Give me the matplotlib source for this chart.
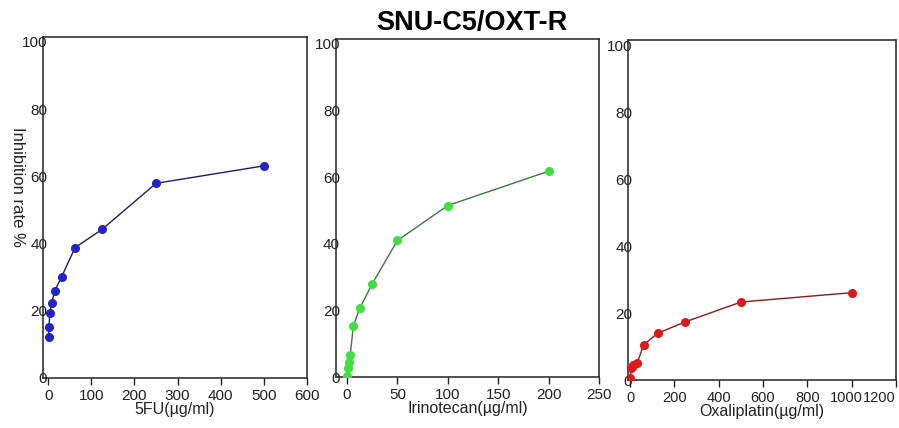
import numpy as np
import matplotlib
matplotlib.use("Agg")
import matplotlib.pyplot as plt
from matplotlib.transforms import ScaledTranslation

# ============================================================
# 数据区
# ============================================================

fu_dose = [0.98, 1.95, 3.9, 7.8, 15.6, 31.25, 62.5, 125, 250, 500]
fu_inhib = [12.3, 15.3, 19.2, 22.2, 26.0, 30.1, 38.8, 44.2, 57.9, 63.1]

iri_dose = [0.39, 0.78, 1.56, 3.125, 6.25, 12.5, 25, 50, 100, 200]
iri_inhib = [0.3, 2.6, 4.5, 6.5, 15.3, 20.6, 28.0, 41.0, 51.5, 61.8]

oxa_dose = [1.95, 3.9, 7.8, 15.6, 31.25, 62.5, 125, 250, 500, 1000]
oxa_inhib = [0.5, 3.6, 4.0, 4.4, 5.0, 10.6, 14.0, 17.4, 23.3, 26.1]

x_labels = ["5FU(µg/ml)", "Irinotecan(µg/ml)", "Oxaliplatin(µg/ml)"]
x_ticks = [np.arange(0, 601, 100), np.arange(0, 251, 50), np.arange(0, 1201, 200)]
y_ticks = [0, 20, 40, 60, 80, 100]

plt.rcParams["font.family"] = ["Liberation Sans", "DejaVu Sans"]

# ============================================================
# 画图
# ============================================================

fig = plt.figure(figsize=(8.99, 4.28), dpi=100)

# 各子图位置（像素量出来的）
boxes = [
    [0.0478, 0.117, 0.2937, 0.797],
    [0.3737, 0.119, 0.2926, 0.790],
    [0.6986, 0.112, 0.2980, 0.794],
]
xlims = [(-12, 600), (-11, 250), (-9, 1200)]
xtick_size = [11, 11, 10.5]

series = [
    (fu_dose, fu_inhib, "#2222c8", "#1c1c6e"),
    (iri_dose, iri_inhib, "#3ee03e", "#3a7a3a"),
    (oxa_dose, oxa_inhib, "#e01818", "#8a1a1a"),
]

for i, (x, y, mc, lc) in enumerate(series):
    ax = fig.add_axes(boxes[i])
    ax.plot(x, y, color=lc, linewidth=1.0, marker="o", markersize=5.5,
            markerfacecolor=mc, markeredgecolor=mc, zorder=3)
    ax.set_xlim(*xlims[i])
    ax.set_ylim(0, 101.5)
    ax.set_xticks(x_ticks[i])
    ax.set_yticks(y_ticks)
    ax.tick_params(axis="x", direction="out", length=5, width=1, pad=3,
                   labelsize=xtick_size[i], colors="#222222")
    ax.tick_params(axis="y", direction="out", length=0, pad=-3,
                   labelsize=11, colors="#222222")
    for s in ax.spines.values():
        s.set_linewidth(1.1)
        s.set_color("#222222")
    ax.set_xlabel(x_labels[i], fontsize=11.5, labelpad=-1, color="#222222")
    if i == 0:
        ax.set_ylabel("Inhibition rate %", fontsize=12, rotation=270,
                      labelpad=14, color="#222222")
        ax.yaxis.set_label_coords(-0.125, 0.56)
    if i == 2:
        # 最右边的 1200 往里收，1000 往左挪一点，免得挤在一起
        ticks = ax.xaxis.get_major_ticks()
        ticks[-1].label1.set_horizontalalignment("right")
        lab = ticks[-2].label1
        lab.set_transform(lab.get_transform() +
                          ScaledTranslation(-5 / 100, 0, fig.dpi_scale_trans))

fig.text(472 / 899, 1 - 23 / 428, "SNU-C5/OXT-R", ha="center", va="center",
         fontsize=19.5, fontweight="bold", family=["Liberation Sans", "DejaVu Sans"])

fig.savefig("out.png", dpi=100)
